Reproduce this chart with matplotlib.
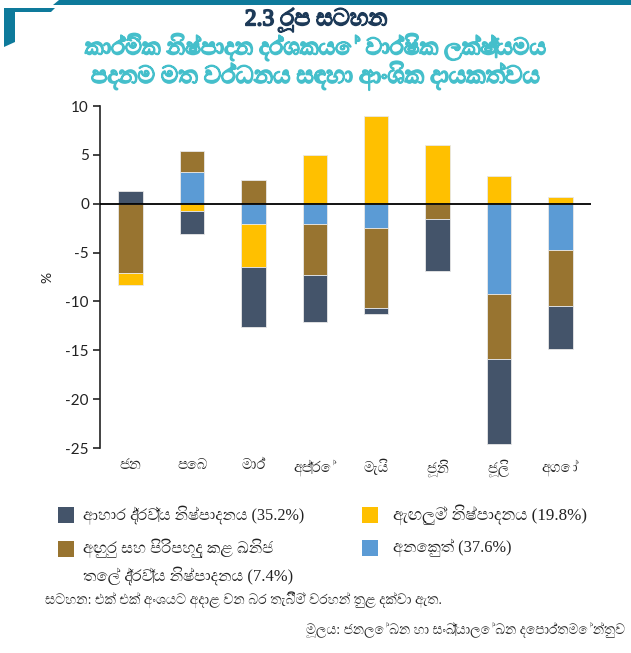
import matplotlib
matplotlib.use("Agg")
import matplotlib.pyplot as plt
from matplotlib import font_manager as fm
from matplotlib import patheffects as pe
from matplotlib.patches import Polygon, Rectangle
import numpy as np

# ---------------- data ----------------
months = ["ජන", "පෙබ", "මාර්", "අප්‍රේ", "මැයි", "ජූනි", "ජූලි", "අගෝ"]
other = [0.0, 3.23, -2.11, -2.11, -2.52, 0.0, -9.29, -4.73]
mining = [-7.07, 2.18, 2.45, -5.17, -8.16, -1.56, -6.56, -5.71]
garment = [-1.20, -0.71, -4.39, 5.03, 9.01, 6.02, 2.86, 0.65]
food = [1.26, -2.39, -6.15, -4.79, -0.58, -5.31, -8.74, -4.39]

lbl_food = "ආහාර ද්‍රව්‍ය නිෂ්පාදනය (35.2%)"
lbl_garment = "ඇඟලුම් නිෂ්පාදනය (19.8%)"
lbl_mining = "අඟුරු සහ පිරිපහදු කළ ඛනිජ\nතෙල් ද්‍රව්‍ය නිෂ්පාදනය (7.4%)"
lbl_other = "අනෙකුත් (37.6%)"
yticks = [10, 5, 0, -5, -10, -15, -20, -25]

title1 = "2.3 රූප සටහන"
title2 = "කාර්මික නිෂ්පාදන දර්ශකයේ වාර්ෂික ලක්ෂ්‍යමය"
title3 = "පදනම මත වර්ධනය සඳහා ආංශික දායකත්වය"
note = "සටහන: එක් එක් අංශයට අදාළ වන බර තැබීම් වරහන් තුළ දක්වා ඇත."
source = "මූලය: ජනලේඛන හා සංඛ්‍යාලේඛන දෙපාර්තමේන්තුව"

# colours
c_food = "#44546A"
c_garment = "#FFC000"
c_mining = "#987430"
c_other = "#5B9BD5"


# ---------------- fonts ----------------
def find_fonts(ch):
    names = []
    try:
        from fontTools.ttLib import TTFont
    except Exception:
        return names
    for f in fm.fontManager.ttflist:
        try:
            tt = TTFont(f.fname, fontNumber=0, lazy=True)
            cmap = tt.getBestCmap()
            if cmap and ord(ch) in cmap and f.name not in names:
                names.append(f.name)
        except Exception:
            pass
    return names


sin_all = find_fonts("ජ")
sin_font = sorted(sin_all, key=lambda n: ("Mono" in n, "Serif" not in n))[:1]
sans = ["Lato", "DejaVu Sans"] + sin_font
serif = ["Liberation Serif", "DejaVu Serif"] + sin_font
plt.rcParams["font.family"] = sans

W, H = 631, 653
fig = plt.figure(figsize=(W / 100, H / 100), dpi=100)


def fx(px):
    return px / W


def fy(py):
    return 1 - py / H


# ---------------- decoration ----------------
deco = "#0E7A9B"
fig.patches.append(Polygon([(fx(53), fy(5)), (fx(59), fy(0)), (fx(631), fy(0)), (fx(631), fy(5))],
                           closed=True, transform=fig.transFigure, color=deco, lw=0))
fig.patches.append(Polygon([(fx(4), fy(8)), (fx(55), fy(8)), (fx(51), fy(12)), (fx(15), fy(12)),
                            (fx(15), fy(42)), (fx(4), fy(47))],
                           closed=True, transform=fig.transFigure, color=deco, lw=0))

fits = []


def heading(px, py, text, col, width, stroke):
    t = fig.text(fx(px), fy(py), text, ha="center", va="center", fontsize=13, color=col,
                 family=serif)
    t.set_path_effects([pe.withStroke(linewidth=stroke, foreground=col)])
    fits.append((t, width))


heading(316, 20, title1, "#1D3A58", 142, 1.2)
heading(315, 47, title2, "#45BFCB", 460, 1.3)
heading(316, 76, title3, "#45BFCB", 448, 1.3)

# ---------------- chart ----------------
ax = fig.add_axes([fx(100), fy(448), fx(591) - fx(100), fy(106) - fy(448)])
x = np.arange(len(months))
pos = np.zeros(len(months))
neg = np.zeros(len(months))
for vals, col in [(other, c_other), (mining, c_mining), (garment, c_garment), (food, c_food)]:
    v = np.array(vals)
    bottom = np.where(v >= 0, pos, neg)
    ax.bar(x, v, 0.4, bottom=bottom, color=col, edgecolor="#E8E8E8", linewidth=0.6, zorder=2)
    pos = pos + np.where(v > 0, v, 0)
    neg = neg + np.where(v < 0, v, 0)

ax.axhline(0, color="black", lw=1.3, zorder=3)
ax.set_xlim(-0.5, len(months) - 0.5)
ax.set_ylim(-25, 10)
ax.set_yticks(yticks)
ax.set_yticklabels([str(v) for v in yticks], fontsize=11, color="#222222")
ax.set_xticks(x)
ax.set_xticklabels(months, fontsize=10.5, color="#222222", family=serif)
ax.tick_params(axis="x", length=0, pad=8)
ax.tick_params(axis="y", length=5, width=1.2, color="#222222", direction="out", pad=3)
for s in ["top", "right", "bottom"]:
    ax.spines[s].set_visible(False)
ax.spines["left"].set_linewidth(1.2)
ax.spines["left"].set_color("#222222")
ax.set_ylabel("%", fontsize=10, color="#222222", labelpad=9)


# ---------------- legend ----------------
def square(px, py_top, col):
    fig.patches.append(Rectangle((fx(px), fy(py_top + 16)), fx(16), 16 / H,
                                 transform=fig.transFigure, color=col, lw=0))


def ltext(px, py, text, width):
    t = fig.text(fx(px), fy(py), text, ha="left", va="center", fontsize=10.5, color="#222222",
                 family=serif, linespacing=1.6)
    fits.append((t, width))


square(58, 507, c_food)
ltext(83, 515, lbl_food, 222)
square(362, 507, c_garment)
ltext(393, 515, lbl_garment, 195)
square(58, 541, c_mining)
ltext(83, 562, lbl_mining, 210)
square(362, 540, c_other)
ltext(393, 548, lbl_other, 119)

t = fig.text(fx(45), fy(600), note, ha="left", va="center", fontsize=8, color="#222222",
             family=serif)
fits.append((t, 398))
t = fig.text(fx(625), fy(630), source, ha="right", va="center", fontsize=8.5, color="#222222",
             family=serif)
fits.append((t, 317))

# scale text sizes to the widths seen in the reference
fig.canvas.draw()
r = fig.canvas.get_renderer()
for t, target in fits:
    w = t.get_window_extent(r).width
    if w > 0:
        t.set_fontsize(t.get_fontsize() * target / w)

fig.savefig("out.png", dpi=100)
